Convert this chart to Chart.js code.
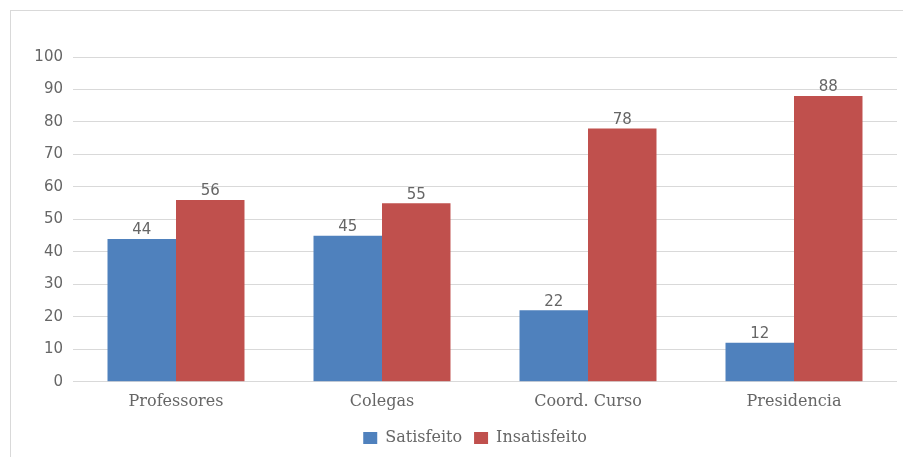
<!DOCTYPE html>
<html>
<head>
<meta charset="utf-8">
<script src="https://cdn.jsdelivr.net/npm/chart.js@4/dist/chart.umd.min.js"></script>
<style>
  html, body { margin: 0; padding: 0; background: #fff; overflow: hidden; }
  #frame { position: absolute; left: 10px; top: 10px; width: 900px; height: 460px; border: 1px solid #d9d9d9; }
  #wrap { position: absolute; left: 0; top: 0; width: 903px; height: 457px; }
</style>
</head>
<body>
<div id="frame"></div>
<div id="wrap"><canvas id="chart"></canvas></div>
<script>
var categories = ["Professores", "Colegas", "Coord. Curso", "Presidencia"];
var satisfeito = [44, 45, 22, 12];
var insatisfeito = [56, 55, 78, 88];
var seriesNames = ["Satisfeito", "Insatisfeito"];
var yTicks = [0, 10, 20, 30, 40, 50, 60, 70, 80, 90, 100];

var textGray = "#666666";
var serifFont = "'DejaVu Serif', serif";
var sansFont = "'DejaVu Sans', sans-serif";

// draws the value above each bar
var valueLabels = {
  id: "valueLabels",
  afterDatasetsDraw: function(chart){
    var ctx = chart.ctx;
    ctx.save();
    ctx.font = "15px " + sansFont;
    ctx.fillStyle = textGray;
    ctx.textAlign = "center";
    ctx.textBaseline = "bottom";
    chart.data.datasets.forEach(function(ds, i){
      var meta = chart.getDatasetMeta(i);
      meta.data.forEach(function(bar, j){
        ctx.fillText(ds.data[j], bar.x, bar.y - 1);
      });
    });
    ctx.restore();
  }
};

// the legend in the original sits a bit right of the canvas centre and a bit lower
var legendShift = {
  id: "legendShift",
  afterLayout: function(chart){
    var lg = chart.legend;
    var s = 475 - (lg.left + lg.right) / 2;
    lg.left += s;
    lg.right += s;
    lg.top += 5;
    lg.bottom += 5;
  }
};

var chartConfig = {
  type: "bar",
  data: {
    labels: categories,
    datasets: [{
      label: seriesNames[0],
      data: satisfeito,
      backgroundColor: "#4f81bd"
    }, {
      label: seriesNames[1],
      data: insatisfeito,
      backgroundColor: "#c0504d"
    }]
  },
  options: {
    responsive: true,
    maintainAspectRatio: false,
    animation: false,
    layout: { padding: { top: 57, right: 6, bottom: 6, left: 0 } },
    datasets: { bar: { categoryPercentage: 0.665, barPercentage: 1.0 } },
    scales: {
      x: {
        grid: { display: false },
        border: { display: false },
        ticks: { color: textGray, font: { family: serifFont, size: 16 }, padding: 2 }
      },
      y: {
        min: 0,
        max: 100,
        afterFit: function(scale){ scale.width = 73; },
        afterBuildTicks: function(scale){ scale.ticks = yTicks.map(function(v){ return { value: v }; }); },
        grid: { color: "#d9d9d9", drawTicks: false },
        border: { display: false },
        ticks: { color: textGray, font: { family: sansFont, size: 15 }, padding: 10 }
      }
    },
    plugins: {
      legend: {
        position: "bottom",
        labels: {
          color: textGray,
          font: { family: serifFont, size: 16 },
          boxWidth: 14,
          boxHeight: 12,
          padding: 12
        }
      },
      tooltip: { enabled: false }
    }
  },
  plugins: [valueLabels, legendShift]
};

new Chart(document.getElementById("chart").getContext("2d"), chartConfig);
</script>
</body>
</html>
